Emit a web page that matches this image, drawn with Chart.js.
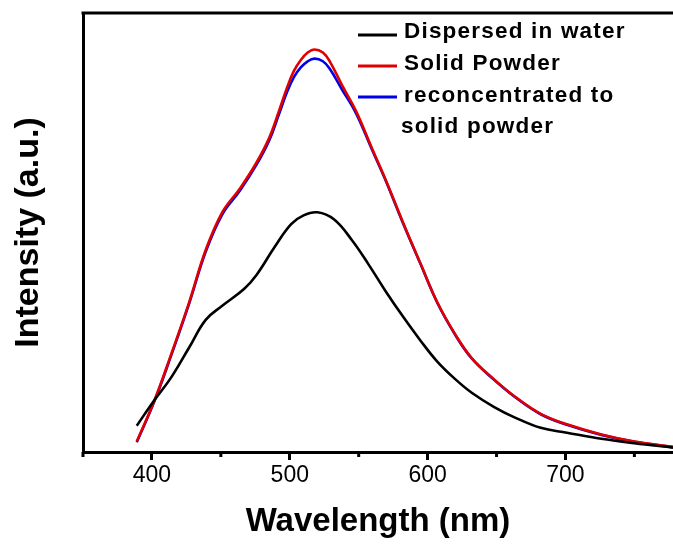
<!DOCTYPE html>
<html>
<head>
<meta charset="utf-8">
<script src="https://cdn.jsdelivr.net/npm/chart.js@4.4.1/dist/chart.umd.min.js"></script>
<style>
  html, body { margin: 0; padding: 0; background: #fff; }
  #wrap { width: 673px; height: 545px; position: relative; }
</style>
</head>
<body>
<div id="wrap"><canvas id="c" width="673" height="545"></canvas></div>
<script>
// ---- data ----
const waterWavelengths = [389, 402, 414, 427, 439, 451, 467, 476, 489, 501, 510, 520, 532, 545, 557, 570, 582, 595, 607, 620, 632, 648, 663, 682, 701, 726, 750, 778];
const waterIntensity   = [6.0, 11.9, 17.0, 23.8, 30.1, 33.3, 37.2, 40.4, 46.7, 51.9, 53.9, 54.6, 53.0, 48.3, 42.8, 36.4, 30.9, 25.3, 20.6, 16.6, 13.5, 10.3, 7.9, 5.5, 4.4, 3.0, 2.0, 1.0];

const powderWavelengths = [389, 402, 414, 427, 439, 451, 464, 476, 485, 492, 498, 503, 508, 513, 518, 524, 529, 538, 548, 560, 570, 582, 595, 607, 620, 632, 648, 663, 682, 701, 726, 750, 778];
const solidIntensity    = [2.4, 11.9, 22.3, 34.1, 46.0, 54.6, 60.1, 66.0, 71.5, 77.5, 83.0, 86.8, 89.3, 91.0, 91.7, 91.0, 89.0, 83.5, 77.7, 68.9, 61.7, 52.4, 42.8, 34.1, 26.8, 21.4, 16.6, 12.7, 8.7, 6.3, 4.0, 2.4, 1.2];
const reconIntensity    = [2.2, 11.7, 22.0, 33.8, 45.6, 54.1, 59.6, 65.5, 70.9, 76.8, 82.0, 85.4, 87.6, 89.0, 89.6, 89.0, 87.3, 82.5, 77.2, 68.6, 61.5, 52.2, 42.7, 34.0, 26.7, 21.3, 16.5, 12.6, 8.6, 6.2, 3.9, 2.3, 1.1];

const seriesLabels = [['Dispersed in water'], ['Solid Powder'], ['reconcentrated to', 'solid powder']];
const seriesColors = ['#000000', '#e00000', '#0000e6'];
const majorTicks = [400, 500, 600, 700];
const minorTicks = [350, 450, 550, 650, 750];
const xMin = 350, xMax = 778;

function pts(xs, ys) { return xs.map((x, i) => ({ x: x, y: ys[i] })); }

const FONT = "'Liberation Sans', Arial, sans-serif";

const frameAndLegend = {
  id: 'frameAndLegend',
  afterDraw(chart) {
    const ctx = chart.ctx;
    const a = chart.chartArea;
    const xs = chart.scales.x;
    ctx.save();
    // top frame line
    ctx.strokeStyle = '#000';
    ctx.lineWidth = 3;
    ctx.beginPath();
    ctx.moveTo(a.left - 1.5, a.top);
    ctx.lineTo(a.right, a.top);
    ctx.stroke();
    // minor ticks
    minorTicks.forEach(v => {
      const px = xs.getPixelForValue(v);
      ctx.beginPath();
      ctx.moveTo(px, a.bottom);
      ctx.lineTo(px, a.bottom + 5);
      ctx.stroke();
    });
    // legend
    ctx.font = 'bold 22.5px ' + FONT;
    if ('letterSpacing' in ctx) ctx.letterSpacing = '1.2px';
    ctx.textBaseline = 'middle';
    ctx.textAlign = 'left';
    const rows = [32, 64, 96];
    const lineY = [35, 66, 97];
    chart.data.datasets.forEach((ds, i) => {
      ctx.strokeStyle = ds.borderColor;
      ctx.lineWidth = 3;
      ctx.beginPath();
      ctx.moveTo(358, lineY[i]);
      ctx.lineTo(397, lineY[i]);
      ctx.stroke();
      ctx.fillStyle = '#000';
      const lines = seriesLabels[i];
      lines.forEach((t, j) => {
        ctx.fillText(t, j === 0 ? 404 : 401, rows[i] + j * 31);
      });
    });
    ctx.restore();
  }
};

new Chart(document.getElementById('c'), {
  type: 'line',
  data: {
    datasets: [
      { label: seriesLabels[0].join(' '), data: pts(waterWavelengths, waterIntensity), borderColor: seriesColors[0] },
      { label: seriesLabels[1].join(' '), data: pts(powderWavelengths, solidIntensity), borderColor: seriesColors[1] },
      { label: seriesLabels[2].join(' '), data: pts(powderWavelengths, reconIntensity), borderColor: seriesColors[2] }
    ]
  },
  options: {
    responsive: false,
    animation: false,
    devicePixelRatio: 1,
    elements: {
      line: { borderWidth: 2.6, tension: 0.4, fill: false },
      point: { radius: 0, hoverRadius: 0 }
    },
    layout: { padding: { top: 13, right: 0, left: 0, bottom: 0 } },
    plugins: { legend: { display: false }, tooltip: { enabled: false } },
    scales: {
      x: {
        type: 'linear',
        min: xMin, max: xMax,
        afterBuildTicks(scale) { scale.ticks = majorTicks.map(v => ({ value: v })); },
        afterFit(scale) { scale.height = 93; },
        ticks: {
          color: '#000',
          font: { family: FONT, size: 23 },
          padding: 2,
          maxRotation: 0,
          autoSkip: false
        },
        grid: { drawOnChartArea: false, drawTicks: true, tickLength: 8, tickWidth: 3, tickColor: '#000' },
        border: { display: true, width: 3, color: '#000' },
        title: {
          display: true,
          text: 'Wavelength (nm)',
          color: '#000',
          font: { family: FONT, size: 33, weight: 'bold' },
          padding: { top: 0, bottom: 3 }
        }
      },
      y: {
        type: 'linear',
        min: 0, max: 100,
        afterFit(scale) { scale.width = 83; },
        ticks: { display: false },
        grid: { drawOnChartArea: false, drawTicks: false },
        border: { display: true, width: 3, color: '#000' },
        title: {
          display: true,
          text: 'Intensity (a.u.)',
          color: '#000',
          font: { family: FONT, size: 34, weight: 'bold' },
          padding: { top: 8, bottom: 0 }
        }
      }
    }
  },
  plugins: [frameAndLegend]
});
</script>
</body>
</html>
